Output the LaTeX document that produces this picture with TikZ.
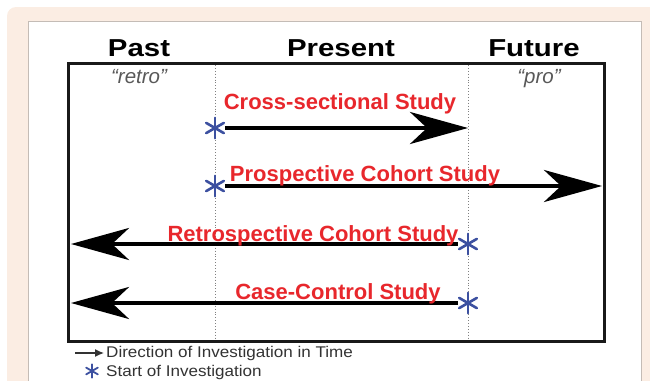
\documentclass[tikz,border=0pt]{standalone}
\usepackage{fontspec}
\setmainfont{Liberation Sans}
\newfontfamily\widesans[FakeStretch=1.2]{Liberation Sans}
\newfontfamily\legendsans[FakeStretch=1.1]{Liberation Sans}
\usetikzlibrary{arrows.meta}

\definecolor{peach}{HTML}{FBEDE3}
\definecolor{panelgray}{HTML}{C4BCB6}
\definecolor{studyred}{HTML}{E8272C}
\definecolor{starblue}{HTML}{3C50A0}
\definecolor{notegray}{HTML}{595959}
\definecolor{legendgray}{HTML}{333333}

% three crossing strokes make the start-of-investigation star
\newcommand{\investstar}[2][2.6pt]{%
  \draw[starline, line width=#1] (#2.90) -- (#2.270);
  \draw[starline, line width=#1] (#2.30) -- (#2.210);
  \draw[starline, line width=#1] (#2.150) -- (#2.330);}

\begin{document}
\begin{tikzpicture}[x=1pt, y=-1pt,
  period/.style={anchor=base, font=\widesans\bfseries\fontsize{24.5}{26}\selectfont},
  eratag/.style={anchor=base, text=notegray, font=\itshape\fontsize{20.5}{22}\selectfont},
  studylabel/.style={anchor=base, text=studyred, font=\bfseries\fontsize{22}{24}\selectfont},
  studyarrow/.style={line width=4pt, -{Stealth[length=58pt, width=32pt, inset=17pt]}},
  starnode/.style={circle, minimum size=20pt, inner sep=0pt},
  starline/.style={starblue, line cap=round},
  timeline/.style={gray, dotted, line width=0.9pt},
  legendtext/.style={anchor=west, inner sep=0pt, text=legendgray, font=\legendsans\fontsize{15.5}{17}\selectfont}]

\useasboundingbox (0,0) rectangle (650,380);

% Page background and panel
\fill[peach, rounded corners=9pt] (7,7) rectangle (690,420);
\filldraw[fill=white, draw=panelgray, line width=0.8pt] (28,21) rectangle (641,420);

% Time periods
\node[period] (past) at (139,56) {Past};
\node[period] (present) at (341,56) {Present};
\node[period] (future) at (534,56) {Future};

% Frame and the two time dividers
\draw[line width=3pt, black!90] (68,63) rectangle (604,341);
\draw[timeline] (215,65) -- (215,339);
\draw[timeline] (468,65) -- (468,339);

\node[eratag] (retro) at (139,83) {``retro''};
\node[eratag] (pro) at (539,83) {``pro''};

% Start points of the studies
\node[starnode] (cross) at (215,128) {};
\node[starnode] (prosp) at (215,186) {};
\node[starnode] (retrosp) at (468,244) {};
\node[starnode] (casectl) at (468,303) {};

% Ends of the arrows
\coordinate (crossend) at (468,128);
\coordinate (prospend) at (602,186);
\coordinate (retrospend) at (71,244);
\coordinate (casectlend) at (71,303);

% Draw study arrows
\draw[studyarrow] (cross) -- (crossend);
\draw[studyarrow] (prosp) -- (prospend);
\draw[studyarrow] (retrosp) -- (retrospend);
\draw[studyarrow] (casectl) -- (casectlend);

\investstar{cross}
\investstar{prosp}
\investstar{retrosp}
\investstar{casectl}

% Study names
\node[studylabel] (crosslabel) at (340,109) {Cross-sectional Study};
\node[studylabel] (prosplabel) at (365,181) {Prospective Cohort Study};
\node[studylabel] (retrosplabel) at (313,241) {Retrospective Cohort Study};
\node[studylabel] (casectllabel) at (338,299) {Case-Control Study};

% Legend
\coordinate (legtail) at (75,353);
\node[legendtext] (legdir) at (106,353) {Direction of Investigation in Time};
\draw[line width=1.3pt, legendgray, -{Latex[length=9pt, width=8pt]}] (legtail) -- ([xshift=-2pt]legdir.west);

\node[starnode, minimum size=13pt] (legstar) at (92,371) {};
\investstar[1.8pt]{legstar}
\node[legendtext] (legstart) at (106,372) {Start of Investigation};

\end{tikzpicture}
\end{document}
